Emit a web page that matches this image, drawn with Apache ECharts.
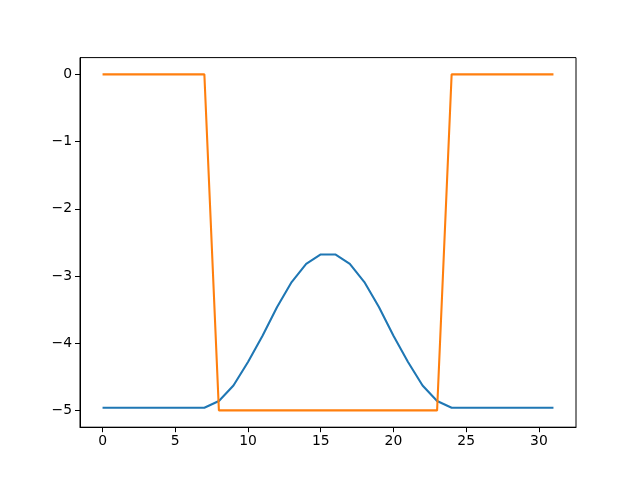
<!DOCTYPE html>
<html><head><meta charset="utf-8">
<script src="https://cdn.jsdelivr.net/npm/echarts@6/dist/echarts.min.js"></script>
<style>html,body{margin:0;padding:0;background:#fff}#c{width:640px;height:480px}</style>
</head><body><div id="c"></div>
<script>
var xValues = [0,1,2,3,4,5,6,7,8,9,10,11,12,13,14,15,16,17,18,19,20,21,22,23,24,25,26,27,28,29,30,31];
var blueValues = [-4.96,-4.96,-4.96,-4.96,-4.96,-4.96,-4.96,-4.96,
  -4.86,-4.63,-4.28,-3.89,-3.46,-3.09,-2.82,-2.68,
  -2.68,-2.82,-3.09,-3.46,-3.89,-4.28,-4.63,-4.86,
  -4.96,-4.96,-4.96,-4.96,-4.96,-4.96,-4.96,-4.96];
var orangeValues = [0,0,0,0,0,0,0,0,
  -5,-5,-5,-5,-5,-5,-5,-5,-5,-5,-5,-5,-5,-5,-5,-5,
  0,0,0,0,0,0,0,0];
var xTicks = [0,5,10,15,20,25,30];
var yTicks = [-5,-4,-3,-2,-1,0];

function pair(vals){ return xValues.map(function(x,i){return [x, vals[i]];}); }
function fmt(v){ return String(v).replace('-', '\u2212'); }
var font = {fontFamily:'DejaVu Sans', fontSize:13.9, color:'#000'};
var chart = echarts.init(document.getElementById('c'), null, {renderer:'canvas'});
chart.setOption({
  animation:false,
  grid:{left:80, right:64, top:57.6, bottom:52.8, show:true, borderColor:'#000', borderWidth:1, backgroundColor:'transparent'},
  xAxis:{type:'value', min:-1.55, max:32.55,
    axisLine:{show:true, onZero:false, lineStyle:{color:'#000', width:1}},
    splitLine:{show:false},
    axisTick:{show:true, length:5, lineStyle:{color:'#000', width:1}, customValues:xTicks},
    axisLabel:Object.assign({margin:7, customValues:xTicks, formatter:fmt}, font)},
  yAxis:{type:'value', min:-5.25, max:0.25,
    axisLine:{show:true, onZero:false, lineStyle:{color:'#000', width:1}},
    splitLine:{show:false},
    axisTick:{show:true, length:5, lineStyle:{color:'#000', width:1}, customValues:yTicks},
    axisLabel:Object.assign({margin:8, customValues:yTicks, formatter:fmt}, font)},
  series:[
    {type:'line', data:pair(blueValues), showSymbol:false, lineStyle:{color:'#1f77b4', width:2.08}, itemStyle:{color:'#1f77b4'}},
    {type:'line', data:pair(orangeValues), showSymbol:false, lineStyle:{color:'#ff7f0e', width:2.08}, itemStyle:{color:'#ff7f0e'}}
  ]
});
</script></body></html>
